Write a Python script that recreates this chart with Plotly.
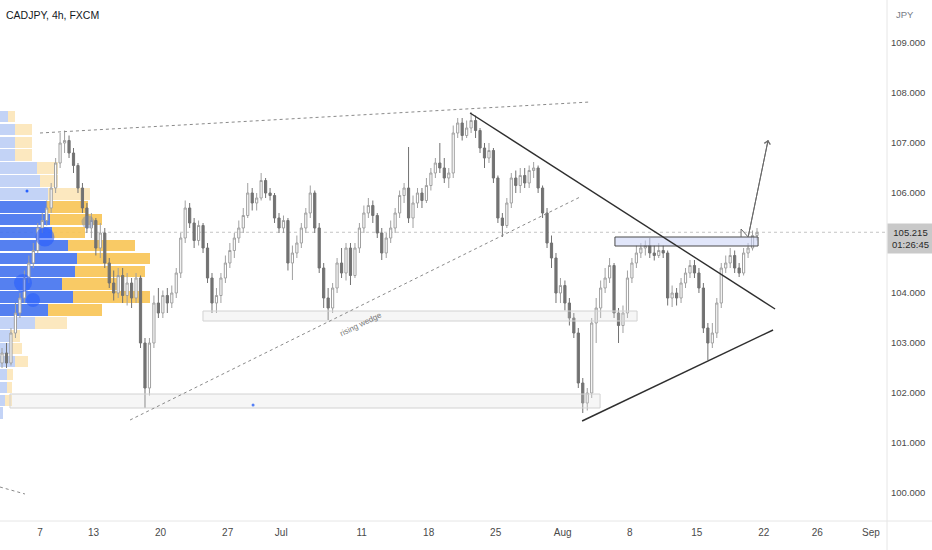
import plotly.graph_objects as go

# 8h candles, CADJPY, from 2 Jun to 19 Aug (trading-day index, 7 Jun = 0)
first_day = -3
bars_per_day = 3

opens = [
    102.6, 102.8, 102.6, 103.2, 103.6, 103.9, 104.3, 104.6, 104.85, 105.3,
    105.45, 105.7, 106.1, 106.6, 107.0, 107.05, 106.8, 106.55, 106.1, 105.7,
    105.3, 105.45, 104.9, 105.2, 104.6, 104.2, 104.0, 104.35, 103.95, 104.2,
    103.9, 104.3, 103.0, 102.1, 103.0, 103.8, 103.6, 103.95, 103.8, 104.0,
    104.4, 105.1, 105.7, 105.4, 105.05, 105.35, 104.9, 104.3, 103.8, 103.95,
    104.3, 104.6, 104.85, 105.1, 105.3, 105.55, 106.0, 105.8, 105.9, 106.25,
    106.0, 105.95, 105.5, 105.3, 105.45, 104.6, 104.8, 105.0, 105.3, 105.6,
    106.0, 105.3, 104.5, 103.9, 103.7, 104.1, 104.6, 104.4, 104.9, 104.35,
    104.9, 105.3, 105.6, 105.75, 105.55, 105.2, 104.8, 105.1, 105.3, 105.6,
    105.95, 106.1, 105.5, 105.8, 106.0, 105.85, 106.15, 106.4, 106.6, 106.5,
    106.3, 106.4, 107.2, 107.4, 107.15, 107.3, 107.45, 107.25, 106.9, 106.7,
    106.85, 106.3, 105.5, 105.35, 105.8, 106.3, 106.15, 106.35, 106.2, 106.45,
    106.5, 106.1, 105.6, 105.0, 104.7, 104.0, 104.15, 103.8, 103.5, 103.2,
    102.2, 101.8, 102.0, 103.4, 103.7, 104.1, 104.3, 104.55, 103.6, 103.35,
    103.6, 104.3, 104.6, 104.8, 104.9, 104.95, 104.8, 104.75, 104.85, 104.8,
    103.9, 104.0, 103.9, 104.2, 104.4, 104.55, 104.4, 104.1, 103.3, 103.0,
    103.2, 103.8, 104.5, 104.6, 104.75, 104.5, 104.4, 104.8, 104.9, 105.15,
]
highs = [
    102.9, 103.0, 103.3, 103.8, 104.0, 104.45, 104.75, 105.0, 105.4, 105.6,
    105.85, 106.2, 106.7, 107.2, 107.25, 107.15, 106.9, 106.6, 106.2, 105.8,
    105.6, 105.5, 105.4, 105.3, 104.7, 104.45, 104.5, 104.5, 104.4, 104.3,
    104.4, 104.35, 103.1, 103.1, 103.95, 104.1, 104.05, 104.1, 104.15, 104.5,
    105.2, 105.85, 105.8, 105.5, 105.45, 105.4, 105.0, 104.4, 104.1, 104.4,
    104.75, 105.0, 105.2, 105.45, 105.7, 106.2, 106.1, 106.0, 106.4, 106.3,
    106.1, 106.0, 105.6, 105.55, 105.5, 104.95, 105.15, 105.4, 105.7, 106.15,
    106.05, 105.4, 104.6, 104.1, 104.2, 104.7, 104.9, 105.0, 105.0, 105.0,
    105.4, 105.75, 105.9, 105.85, 105.6, 105.3, 105.2, 105.45, 105.7, 106.05,
    106.2, 106.92, 105.95, 106.1, 106.1, 106.3, 106.5, 106.7, 107.0, 106.7,
    106.5, 107.35, 107.5, 107.5, 107.45, 107.62, 107.55, 107.3, 107.0, 107.0,
    106.9, 106.35, 105.6, 105.9, 106.4, 106.45, 106.5, 106.5, 106.55, 106.62,
    106.55, 106.15, 105.7, 105.15, 104.8, 104.3, 104.25, 103.9, 103.6, 103.3,
    102.3, 102.1, 103.5, 103.9, 104.25, 104.5, 104.7, 104.6, 103.7, 103.75,
    104.45, 104.7, 104.95, 105.0, 105.05, 105.1, 104.95, 105.0, 104.95, 104.85,
    104.15, 104.1, 104.3, 104.5, 104.66, 104.66, 104.5, 104.2, 103.4, 103.4,
    103.9, 104.6, 104.75, 104.9, 104.85, 104.6, 104.9, 105.0, 105.25, 105.3,
]
lows = [
    102.5, 102.5, 102.55, 103.1, 103.5, 103.8, 104.2, 104.5, 104.8, 105.2,
    105.35, 105.6, 106.0, 106.5, 106.8, 106.7, 106.4, 106.0, 105.6, 105.2,
    105.1, 104.75, 104.7, 104.5, 104.1, 103.85, 103.9, 103.8, 103.75, 103.7,
    103.8, 102.9, 101.7, 101.95, 102.9, 103.5, 103.5, 103.6, 103.7, 103.9,
    104.3, 105.0, 105.3, 104.9, 104.95, 104.8, 104.2, 103.6, 103.6, 103.8,
    104.2, 104.5, 104.7, 105.0, 105.2, 105.5, 105.65, 105.65, 105.85, 105.9,
    105.85, 105.4, 105.2, 105.2, 104.45, 104.26, 104.7, 104.9, 105.2, 105.5,
    105.2, 104.4, 103.7, 103.46, 103.6, 104.0, 104.3, 104.25, 104.16, 104.3,
    104.8, 105.2, 105.5, 105.4, 105.1, 104.66, 104.7, 105.0, 105.2, 105.5,
    105.8, 105.4, 105.3, 105.7, 105.7, 105.8, 106.05, 106.3, 106.4, 106.2,
    106.1, 106.3, 107.1, 107.05, 107.1, 107.2, 107.1, 106.8, 106.5, 106.6,
    106.2, 105.4, 105.12, 105.3, 105.7, 106.0, 106.0, 106.1, 106.1, 106.3,
    106.0, 105.5, 104.9, 104.5, 103.8, 103.8, 103.65, 103.35, 103.1, 102.1,
    101.6, 101.65, 101.9, 103.0, 103.5, 104.0, 104.2, 103.5, 103.0, 103.2,
    103.5, 104.2, 104.5, 104.7, 104.75, 104.7, 104.65, 104.7, 104.7, 103.75,
    103.72, 103.75, 103.8, 104.1, 104.3, 104.3, 104.0, 103.2, 102.66, 102.9,
    103.1, 103.7, 104.4, 104.5, 104.4, 104.32, 104.35, 104.7, 104.85, 105.05,
]
closes = [
    102.8, 102.6, 103.2, 103.6, 103.9, 104.3, 104.6, 104.85, 105.3, 105.45,
    105.7, 106.1, 106.6, 107.0, 107.05, 106.8, 106.55, 106.1, 105.7, 105.3,
    105.45, 104.9, 105.2, 104.6, 104.2, 104.0, 104.35, 103.95, 104.2, 103.9,
    104.3, 103.0, 102.1, 103.0, 103.8, 103.6, 103.95, 103.8, 104.0, 104.4,
    105.1, 105.7, 105.4, 105.05, 105.35, 104.9, 104.3, 103.8, 103.95, 104.3,
    104.6, 104.85, 105.1, 105.3, 105.55, 106.0, 105.8, 105.9, 106.25, 106.0,
    105.95, 105.5, 105.3, 105.45, 104.6, 104.8, 105.0, 105.3, 105.6, 106.0,
    105.3, 104.5, 103.9, 103.7, 104.1, 104.6, 104.4, 104.9, 104.35, 104.9,
    105.3, 105.6, 105.75, 105.55, 105.2, 104.8, 105.1, 105.3, 105.6, 105.95,
    106.1, 105.5, 105.8, 106.0, 105.85, 106.15, 106.4, 106.6, 106.5, 106.3,
    106.4, 107.2, 107.4, 107.15, 107.3, 107.45, 107.25, 106.9, 106.7, 106.85,
    106.3, 105.5, 105.35, 105.8, 106.3, 106.15, 106.35, 106.2, 106.45, 106.5,
    106.1, 105.6, 105.0, 104.7, 104.0, 104.15, 103.8, 103.5, 103.2, 102.2,
    101.8, 102.0, 103.4, 103.7, 104.1, 104.3, 104.55, 103.6, 103.35, 103.6,
    104.3, 104.6, 104.8, 104.9, 104.95, 104.8, 104.75, 104.85, 104.8, 103.9,
    104.0, 103.9, 104.2, 104.4, 104.55, 104.4, 104.1, 103.3, 103.0, 103.2,
    103.8, 104.5, 104.6, 104.75, 104.5, 104.4, 104.8, 104.9, 105.15, 105.215,
]
last_price = 105.215
countdown = "01:26:45"

# x axis labels (trading-day index)
tick_days = [0, 4, 9, 14, 18, 24, 29, 34, 39, 44, 49, 54, 58, 62]
tick_labels = ["7", "13", "20", "27", "Jul", "11", "18", "25", "Aug", "8", "15", "22", "26", "Sep"]
price_ticks = [100, 101, 102, 103, 104, 106, 107, 108, 109]

# visible range volume profile (rows top -> bottom)
profile_rows = [107.53, 107.27, 107.01, 106.76, 106.50, 106.24, 105.98, 105.72,
                105.47, 105.21, 104.95, 104.69, 104.43, 104.18, 103.92, 103.66,
                103.40, 103.14, 102.89, 102.63, 102.37, 102.11, 101.85, 101.60]
vol_up = [8, 15, 15, 15, 37, 40, 48, 47, 50, 52, 68, 77, 75, 62, 73, 48, 35, 10, 10, 15, 7, 7, 5, 3]
vol_down = [7, 17, 17, 17, 21, 18, 42, 41, 52, 33, 67, 73, 70, 55, 77, 54, 32, 10, 12, 13, 6, 5, 7, 0]
value_area = [False] * 7 + [True] * 9 + [False] * 8

# bubbles on the left (day, price, size)
bubble_days = [0.37, -1.27, -0.52, 3.58]
bubble_prices = [105.12, 104.2, 103.86, 105.42]
bubble_sizes = [19, 18, 14, 13]
dot_days = [-0.97, 15.9]
dot_prices = [106.04, 101.76]

# drawings (day, price)
top_line = [(0.0, 107.2), (41.04, 107.82)]
wedge_line = [(6.72, 101.46), (40.3, 105.92)]
corner_line = [(-2.99, 100.12), (-1.12, 99.98)]
tri_upper = [(32.09, 107.6), (54.85, 103.68)]
tri_lower = [(40.45, 101.44), (54.7, 103.26)]
zone_mid = [(12.16, 103.44), (44.55, 103.64)]
zone_low = [(-2.24, 101.70), (41.79, 101.98)]
zone_top = [(42.9, 104.94), (53.58, 105.12)]
arrow_path = [(52.31, 105.12), (52.31, 105.28), (52.84, 105.12), (54.33, 107.06)]

x_min, x_max = -2.985, 63.2
y_min, y_max = 99.44, 109.86
font = "Liberation Sans, Arial, sans-serif"

bar_x = [first_day + (i + 0.5) / bars_per_day for i in range(len(closes))]

fig = go.Figure()

# volume profile bars, anchored at the left edge
max_total = max(u + d for u, d in zip(vol_up, vol_down))
scale = 0.169 * (x_max - x_min) / max_total
up_col = ["rgba(66,114,238,0.9)" if v else "rgba(185,203,245,0.85)" for v in value_area]
dn_col = ["rgba(248,196,84,0.9)" if v else "rgba(251,228,180,0.85)" for v in value_area]
fig.add_trace(go.Bar(
    y=profile_rows, x=[v * scale for v in vol_up], base=x_min, orientation="h",
    width=0.235, marker=dict(color=up_col, line=dict(width=0)), hoverinfo="skip"))
fig.add_trace(go.Bar(
    y=profile_rows, x=[v * scale for v in vol_down],
    base=[x_min + v * scale for v in vol_up], orientation="h",
    width=0.235, marker=dict(color=dn_col, line=dict(width=0)), hoverinfo="skip"))

fig.add_trace(go.Scatter(
    x=bubble_days, y=bubble_prices, mode="markers", hoverinfo="skip",
    marker=dict(size=bubble_sizes, color=["rgba(35,90,255,0.8)", "rgba(35,90,255,0.75)",
                                          "rgba(35,90,255,0.75)", "rgba(110,130,180,0.6)"],
                line=dict(width=0))))
fig.add_trace(go.Scatter(
    x=dot_days, y=dot_prices, mode="markers", hoverinfo="skip",
    marker=dict(size=3, color="#2962ff")))

fig.add_trace(go.Candlestick(
    x=bar_x, open=opens, high=highs, low=lows, close=closes,
    increasing=dict(line=dict(color="#a0a0a0", width=1), fillcolor="#ffffff"),
    decreasing=dict(line=dict(color="#727272", width=1), fillcolor="#727272"),
    whiskerwidth=0, hoverinfo="skip"))

shapes = []


def seg(pts, color, width, dash="solid"):
    (x0, y0), (x1, y1) = pts
    return dict(type="line", x0=x0, y0=y0, x1=x1, y1=y1, xref="x", yref="y",
                line=dict(color=color, width=width, dash=dash), layer="above")


def rect(pts, fill, border, width=1):
    (x0, y0), (x1, y1) = pts
    return dict(type="rect", x0=x0, y0=y0, x1=x1, y1=y1, xref="x", yref="y",
                fillcolor=fill, line=dict(color=border, width=width), layer="above")


shapes.append(dict(type="line", x0=x_min, x1=x_max, y0=last_price, y1=last_price,
                   line=dict(color="#c4c4c4", width=1, dash="dot"), layer="below"))
shapes.append(rect(zone_mid, "rgba(220,220,220,0.25)", "#d2d2d2"))
shapes.append(rect(zone_low, "rgba(220,220,220,0.25)", "#d2d2d2"))
shapes.append(rect(zone_top, "rgba(200,210,245,0.55)", "#4a4a4a"))
shapes.append(seg(top_line, "#8a8a8a", 1, "dot"))
shapes.append(seg(wedge_line, "#8a8a8a", 1, "dot"))
shapes.append(seg(corner_line, "#8a8a8a", 1, "dot"))
shapes.append(seg(tri_upper, "#2f2f2f", 1.4))
shapes.append(seg(tri_lower, "#2f2f2f", 1.4))
for a, b in zip(arrow_path[:-1], arrow_path[1:]):
    shapes.append(seg([a, b], "#6a6a6a", 1))
# right axis and time axis separators
shapes.append(dict(type="line", xref="paper", yref="paper", x0=1, x1=1, y0=-0.06, y1=1,
                   line=dict(color="#e6e6e6", width=1)))
shapes.append(dict(type="line", xref="paper", yref="paper", x0=0, x1=1.06, y0=0, y1=0,
                   line=dict(color="#e6e6e6", width=1)))

annotations = [
    dict(x=arrow_path[-1][0], y=arrow_path[-1][1], ax=arrow_path[-2][0], ay=arrow_path[-2][1],
         xref="x", yref="y", axref="x", ayref="y", text="", showarrow=True,
         arrowhead=4, arrowsize=1.2, arrowwidth=1, arrowcolor="#6a6a6a"),
    dict(x=23.9, y=103.38, xref="x", yref="y", text="rising wedge", showarrow=False,
         textangle=-26, font=dict(family=font, size=8, color="#777")),
    dict(x=0.004, y=0.972, xref="paper", yref="paper", xanchor="left", yanchor="middle",
         text="CADJPY, 4h, FXCM", showarrow=False,
         font=dict(family=font, size=10.5, color="#131722")),
    dict(x=1.008, y=0.973, xref="paper", yref="paper", xanchor="left", yanchor="middle",
         text="JPY", showarrow=False, font=dict(family=font, size=9.5, color="#787b86")),
    dict(x=1.0, y=last_price + 0.19, xref="paper", yref="y", xanchor="left", yanchor="top",
         text=f"{last_price:.3f}<br>{countdown}", showarrow=False, align="center",
         bgcolor="#c9c9c9", borderpad=3, width=39,
         font=dict(family=font, size=9.5, color="#2a2a2a")),
]

fig.update_layout(
    width=932, height=550,
    margin=dict(l=0, r=45, t=0, b=29),
    paper_bgcolor="#ffffff", plot_bgcolor="#ffffff",
    showlegend=False, barmode="overlay", bargap=0,
    shapes=shapes, annotations=annotations,
    xaxis=dict(range=[x_min, x_max], showgrid=False, zeroline=False,
               tickvals=tick_days, ticktext=tick_labels, ticks="", showline=False,
               rangeslider=dict(visible=False), ticklabelstandoff=4,
               tickfont=dict(family=font, size=10, color="#4a4a4a")),
    yaxis=dict(range=[y_min, y_max], side="right", showgrid=False, zeroline=False,
               tickvals=price_ticks, ticktext=[f"{p:.3f}" for p in price_ticks],
               ticks="", showline=False, ticklabelstandoff=3,
               tickfont=dict(family=font, size=9.5, color="#4a4a4a")),
)

# the page's default body margin would shift the chart by 8px
fig.write_html("out.html", config={"displayModeBar": False},
               post_script="document.body.style.margin='0';")
